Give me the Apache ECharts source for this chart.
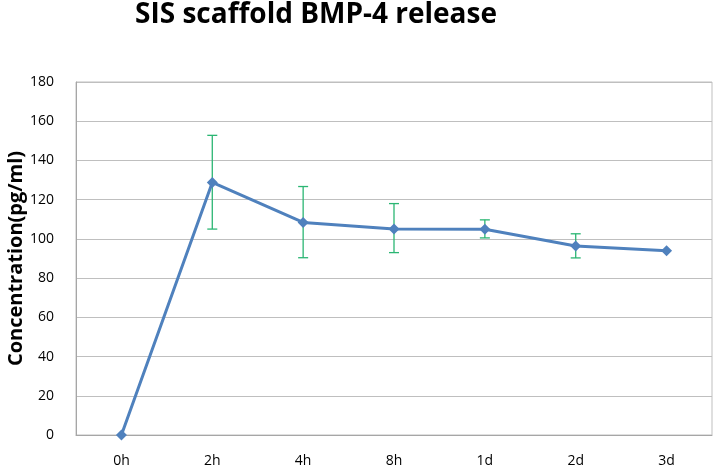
<!DOCTYPE html>
<html>
<head>
<meta charset="utf-8">
<script src="https://cdn.jsdelivr.net/npm/echarts@6/dist/echarts.min.js"></script>
<style>html,body{margin:0;padding:0;background:#fff}#c{width:715px;height:468px}</style>
</head>
<body>
<div id="c"></div>
<script>
var categories = ['0h', '2h', '4h', '8h', '1d', '2d', '3d'];
var values = [0, 128.8, 108.4, 105.1, 104.9, 96.4, 94.0];
var errLow = [null, 105.0, 90.4, 93.0, 100.5, 90.3, null];
var errHigh = [null, 152.8, 126.7, 118.0, 109.7, 102.6, null];
var yTicks = [0, 20, 40, 60, 80, 100, 120, 140, 160, 180];

var errData = [];
for (var i = 0; i < categories.length; i++) {
  if (errLow[i] !== null) errData.push([i, errLow[i], errHigh[i]]);
}

var chart = echarts.init(document.getElementById('c'));
chart.setOption({
  animation: false,
  title: {
    text: 'SIS scaffold BMP-4 release',
    left: 311, top: -3.5, textAlign: 'center',
    textStyle: {fontFamily: 'Open Sans', fontWeight: 'bold', fontSize: 28, color: '#000'}
  },
  grid: {left: 76, right: 3, top: 82, bottom: 33, show: true, borderColor: '#bfbfbf', borderWidth: 1,
         containLabel: false, outerBoundsMode: 'none'},
  xAxis: {
    type: 'category', data: categories, boundaryGap: true,
    axisLine: {lineStyle: {color: '#a6a6a6'}},
    axisTick: {show: false},
    axisLabel: {color: '#000', fontSize: 14, margin: 19, fontFamily: 'Open Sans'}
  },
  yAxis: {
    type: 'value', min: yTicks[0], max: yTicks[yTicks.length - 1], interval: 20,
    name: 'Concentration(pg/ml)', nameLocation: 'middle', nameGap: 50, nameMoveOverlap: false,
    nameTextStyle: {fontFamily: 'Open Sans', fontWeight: 'bold', fontSize: 20, color: '#000'},
    axisLine: {show: true, lineStyle: {color: '#a6a6a6'}},
    axisTick: {show: false},
    splitLine: {lineStyle: {color: '#bfbfbf'}},
    axisLabel: {color: '#000', fontSize: 14, margin: 22, fontFamily: 'Open Sans'}
  },
  series: [
    {
      type: 'custom', data: errData, z: 1,
      renderItem: function (params, api) {
        var x = api.value(0);
        var lo = api.coord([x, api.value(1)]);
        var hi = api.coord([x, api.value(2)]);
        var w = 5;
        var st = {stroke: '#2bb673', lineWidth: 1.3};
        return {type: 'group', children: [
          {type: 'line', shape: {x1: lo[0], y1: lo[1], x2: hi[0], y2: hi[1]}, style: st},
          {type: 'line', shape: {x1: hi[0] - w, y1: hi[1], x2: hi[0] + w, y2: hi[1]}, style: st},
          {type: 'line', shape: {x1: lo[0] - w, y1: lo[1], x2: lo[0] + w, y2: lo[1]}, style: st}
        ]};
      }
    },
    {
      type: 'line', data: values, symbol: 'diamond', symbolSize: 11,
      lineStyle: {color: '#4f81bd', width: 3},
      itemStyle: {color: '#4f81bd'}, z: 3
    }
  ]
});
</script>
</body>
</html>
